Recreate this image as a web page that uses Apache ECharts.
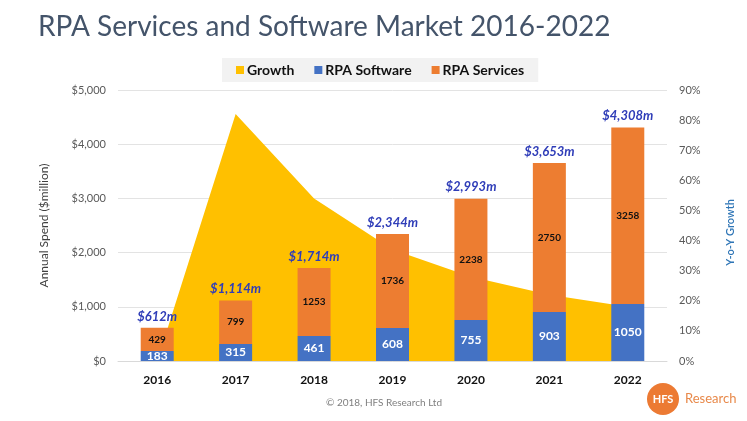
<!DOCTYPE html>
<html>
<head>
<meta charset="utf-8">
<script src="https://cdn.jsdelivr.net/npm/echarts@6/dist/echarts.min.js"></script>
<style>
html,body{margin:0;padding:0;background:#fff;}
#c{width:747px;height:421px;}
</style>
</head>
<body>
<div id="c"></div>
<script>
var years = ['2016','2017','2018','2019','2020','2021','2022'];
var software = [183, 315, 461, 608, 755, 903, 1050];
var services = [429, 799, 1253, 1736, 2238, 2750, 3258];
var totals = [612, 1114, 1714, 2344, 2993, 3653, 4308];
var growth = [0, 82, 54, 37, 28, 22, 18];

var FONT = 'Lato, "Open Sans", sans-serif';
var chart = echarts.init(document.getElementById('c'));
chart.setOption({
  animation: false,
  textStyle: {fontFamily: FONT},
  title: {
    text: 'RPA Services and Software Market 2016-2022',
    left: 33, top: 8,
    textStyle: {fontFamily: FONT, fontSize: 28, fontWeight: 'normal', color: '#44546A'}
  },
  legend: {
    data: ['Growth', 'RPA Software', 'RPA Services'],
    left: 222, top: 58,
    backgroundColor: '#F2F2F2',
    padding: [5, 14, 5, 14],
    itemWidth: 8, itemHeight: 8, itemGap: 20,
    icon: 'rect',
    textStyle: {fontFamily: FONT, fontSize: 14, fontWeight: 'bold', color: '#111', padding: [0,0,0,-2]}
  },
  grid: {left: 118, right: 80, top: 90, bottom: 60},
  xAxis: {
    type: 'category', data: years,
    axisLine: {lineStyle: {color: '#D9D9D9'}},
    axisTick: {show: false},
    axisLabel: {color: '#111', fontWeight: 'bold', fontSize: 12, margin: 13}
  },
  yAxis: [{
    type: 'value', min: 0, max: 5000, interval: 1000,
    name: 'Annual Spend ($million)', nameLocation: 'middle', nameGap: 68, nameRotate: 90,
    nameTextStyle: {color: '#404040', fontSize: 12},
    axisLine: {show: false}, axisTick: {show: false},
    splitLine: {lineStyle: {color: '#E3E3E3'}},
    axisLabel: {color: '#595959', fontSize: 11, margin: 12,
      formatter: function (v) { return '$' + v.toLocaleString('en-US'); }}
  }, {
    type: 'value', min: 0, max: 90, interval: 10, position: 'right',
    name: 'Y-o-Y Growth', nameLocation: 'middle', nameGap: 58, nameRotate: 90,
    nameTextStyle: {color: '#2E75B6', fontSize: 11, fontWeight: 600, padding: [0, 14, 0, 0]},
    axisLine: {show: false}, axisTick: {show: false}, splitLine: {show: false},
    axisLabel: {color: '#595959', fontSize: 11, margin: 12, formatter: '{value}%'}
  }],
  series: [{
    name: 'Growth', type: 'line', yAxisIndex: 1, data: growth,
    symbol: 'none', lineStyle: {width: 0}, itemStyle: {color: '#FFC000'},
    areaStyle: {color: '#FFC000', opacity: 1}, z: 1
  }, {
    name: 'RPA Software', type: 'bar', stack: 'm', data: software, barWidth: 33,
    itemStyle: {color: '#4472C4'}, z: 3,
    label: {show: true, position: 'inside', color: '#fff', fontWeight: 'bold', fontSize: 12, fontFamily: FONT}
  }, {
    name: 'RPA Services', type: 'bar', stack: 'm', data: services, barWidth: 33,
    itemStyle: {color: '#ED7D31'}, z: 3,
    label: {show: true, position: 'inside', color: '#111', fontWeight: 'bold', fontSize: 10, fontFamily: FONT}
  }, {
    name: 'Total', type: 'line', data: totals, symbol: 'circle', symbolSize: 0,
    lineStyle: {opacity: 0}, z: 4, silent: true,
    label: {show: true, position: 'top', distance: 5, color: '#2F3DB8', fontWeight: 'bold',
      fontStyle: 'italic', fontSize: 13, fontFamily: FONT,
      formatter: function (p) { return '$' + p.value.toLocaleString('en-US') + 'm'; }}
  }],
  graphic: [{
    type: 'text', left: 326, top: 398,
    style: {text: '\u00A9 2018, HFS Research Ltd', fill: '#7F7F7F', font: '10px ' + FONT}
  }, {
    type: 'circle', shape: {cx: 663, cy: 399, r: 16}, style: {fill: '#EC7A33'}
  }, {
    type: 'text', x: 663, y: 399,
    style: {text: 'HFS', fill: '#fff', font: 'bold 11px ' + FONT, align: 'center', verticalAlign: 'middle'}
  }, {
    type: 'text', x: 685, y: 399,
    style: {text: 'Research', fill: '#E8894A', font: '13px ' + FONT, verticalAlign: 'middle'}
  }]
});
</script>
</body>
</html>
